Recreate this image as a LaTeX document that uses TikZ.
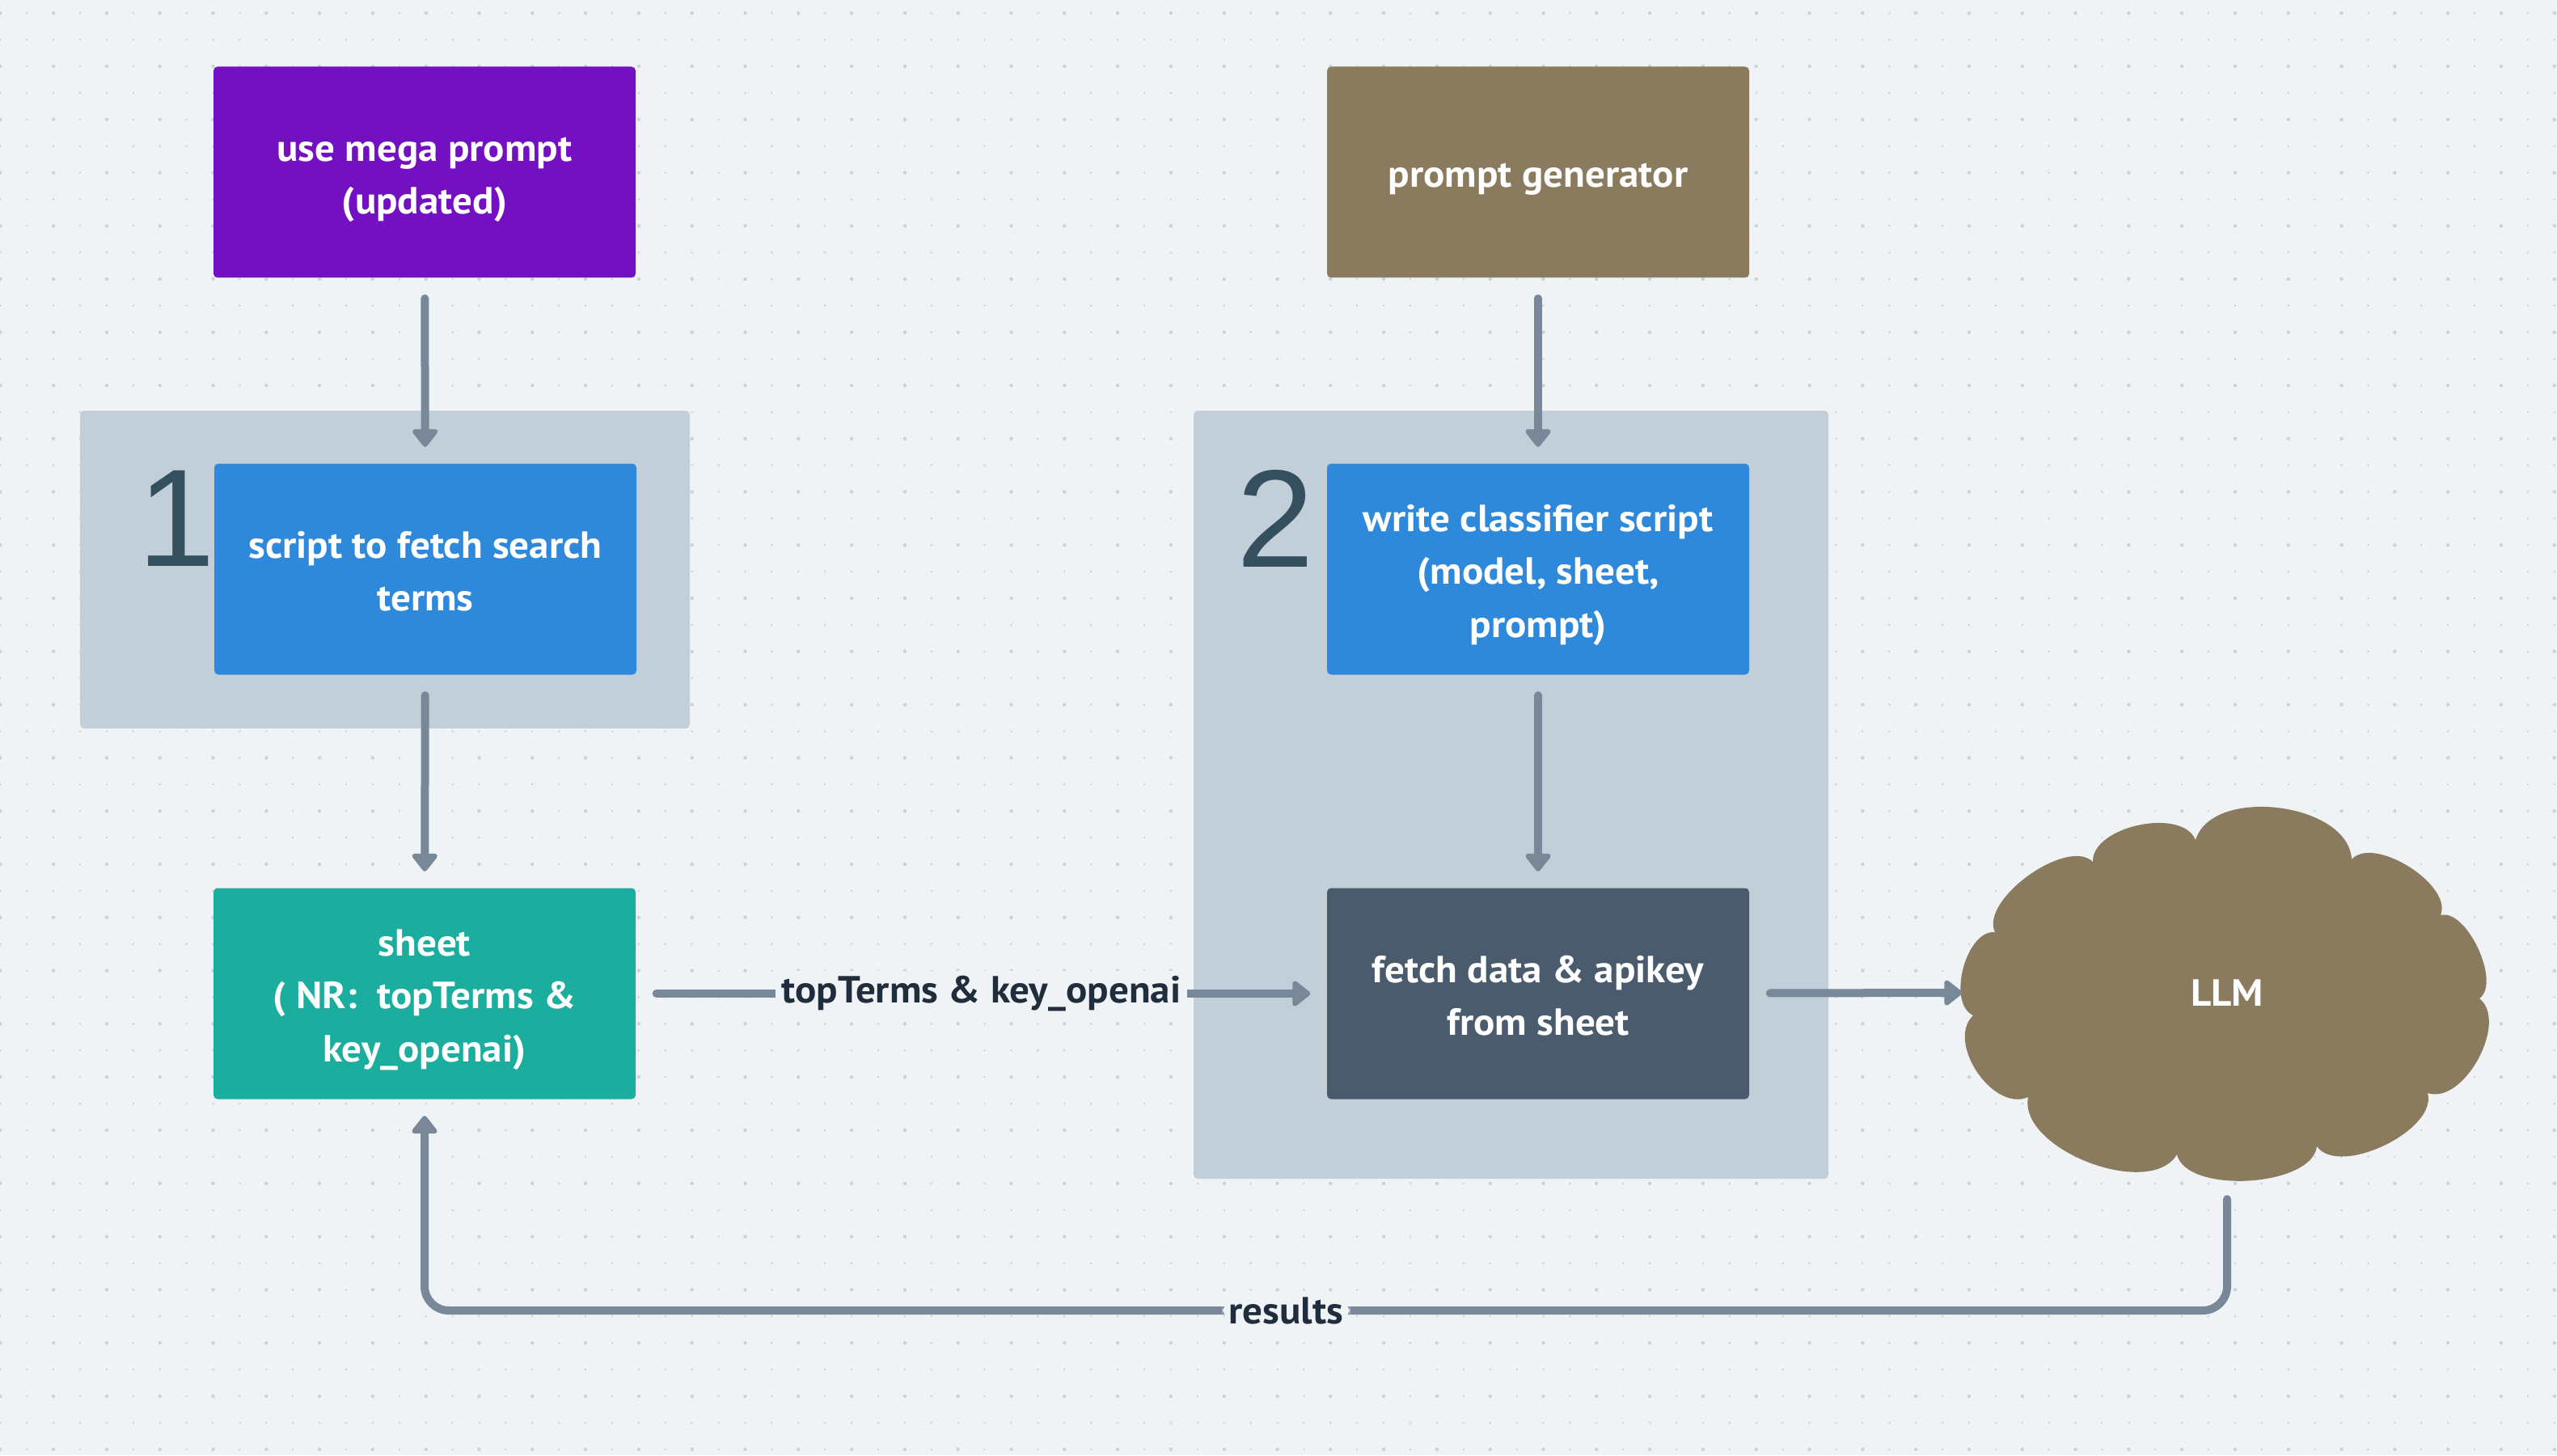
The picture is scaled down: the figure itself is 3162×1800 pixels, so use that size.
\documentclass[tikz,border=0pt]{standalone}
\usepackage{fontspec}
\setmainfont{PT Sans}[FakeStretch=1.05]
\newfontfamily\digitfont{Liberation Sans}
\usetikzlibrary{arrows.meta}
\newcommand\boxstrut{\rule[-3.85pt]{0pt}{18.5pt}}
\definecolor{bgc}{HTML}{EFF3F6}
\definecolor{dotc}{HTML}{C8D2DD}
\definecolor{purplec}{HTML}{7210C2}
\definecolor{brownc}{HTML}{8A7A5E}
\definecolor{bluec}{HTML}{2F89DA}
\definecolor{tealc}{HTML}{1BAE9F}
\definecolor{slatec}{HTML}{4A5B6D}
\definecolor{groupc}{HTML}{C2CFD9}
\definecolor{arrowc}{HTML}{798898}
\definecolor{digitc}{HTML}{34505F}
\definecolor{labelc}{HTML}{1F2D3D}
\tikzset{
  box/.style={rectangle, rounded corners=0.5mm, minimum width=52.2mm, minimum height=26.1mm,
    text=white, align=center, font=\fontsize{13.3pt}{18.5pt}\selectfont\bfseries, inner sep=0pt},
  groupbox/.style={fill=groupc, rounded corners=0.5mm},
  conn/.style={draw=arrowc, line width=1mm, line cap=round,
    -{Triangle[length=2.4mm,width=3.6mm,round]}, shorten <=2.5mm, shorten >=2mm},
  elabel/.style={fill=bgc, text=labelc, font=\fontsize{13.3pt}{18.5pt}\selectfont\bfseries, inner xsep=0.8mm, inner ysep=0.6mm},
  digit/.style={text=digitc, font=\digitfont\fontsize{48.9pt}{50pt}\selectfont, inner sep=0pt, anchor=base west},
  cloudlabel/.style={rectangle, inner sep=0pt, minimum width=65.4mm, minimum height=45.9mm,
    text=white, font=\fontsize{13.3pt}{18.5pt}\selectfont\bfseries},
}
\begin{document}
\begin{tikzpicture}[x=0.1mm, y=-0.1mm]
\useasboundingbox (0,0) rectangle (3162,1800);
\fill[bgc] (0,0) rectangle (3162,1800);
% dot grid
\foreach \i in {0,...,96}{
  \foreach \j in {0,...,54}{
    \fill[dotc] ({0.3+32.9*\i},{16.2+32.9*\j}) circle[radius=0.14mm];
  }
}
\foreach \i in {0,2,...,96}{
  \foreach \j in {0,2,...,54}{
    \fill[dotc] ({0.3+32.9*\i},{16.2+32.9*\j}) circle[radius=0.22mm];
  }
}
% group backgrounds
\path[groupbox] (99,508) rectangle (853,901);
\path[groupbox] (1476,508) rectangle (2261,1458);
% digits
\node[digit] (d1) at (170,700) {1};
\node[digit] (d2) at (1529,701) {2};
% boxes
\node[box, fill=purplec] (mega) at (525,213) {\boxstrut use mega prompt\\(updated)\boxstrut};
\node[box, fill=brownc] (pgen) at (1902,213) {\boxstrut prompt generator\boxstrut};
\node[box, fill=bluec] (script) at (526,704) {\boxstrut script to fetch search\\terms\boxstrut};
\node[box, fill=bluec] (classif) at (1902,704) {\boxstrut write classifier script\\(model, sheet,\\prompt)\boxstrut};
\node[box, fill=tealc] (sheet) at (525,1229) {\boxstrut sheet\\( NR:\ \ topTerms \&\\key\_openai)\boxstrut};
\node[box, fill=slatec] (fetch) at (1902,1229) {\boxstrut fetch data \& apikey\\from sheet\boxstrut};
% cloud
\path[fill=brownc]
  (2467,1153) to[bend left=80, looseness=0.76] (2588,1066)
  to[bend left=80, looseness=0.87] (2715,1039)
  to[bend left=80, looseness=0.93] (2908,1063)
  to[bend left=80, looseness=0.80] (3018,1132)
  to[bend left=80, looseness=0.75] (3066,1235)
  to[bend left=80, looseness=0.90] (3002,1352)
  to[bend left=80, looseness=0.80] (2865,1418)
  to[bend left=80, looseness=0.75] (2692,1428)
  to[bend left=80, looseness=0.85] (2508,1357)
  to[bend left=80, looseness=1.00] (2440,1256)
  to[bend left=80, looseness=0.87] (2467,1153) -- cycle;
\node[cloudlabel] (llm) at (2754,1228) {LLM};
% connectors
\coordinate (bot) at (0,1621);
\draw[conn] (mega) -- (script);
\draw[conn] (pgen) -- (classif);
\draw[conn] (script) -- (sheet);
\draw[conn] (classif) -- (fetch);
\draw[conn] (sheet) -- node[elabel] {topTerms \& key\_openai} (fetch);
\draw[conn, shorten >=0mm] (fetch) -- (llm.west);
\draw[conn, rounded corners=3mm] (llm.south) -- (llm.south |- bot)
  -- node[elabel, pos=0.522] {results} (sheet.south |- bot) -- (sheet.south);
\end{tikzpicture}
\end{document}
